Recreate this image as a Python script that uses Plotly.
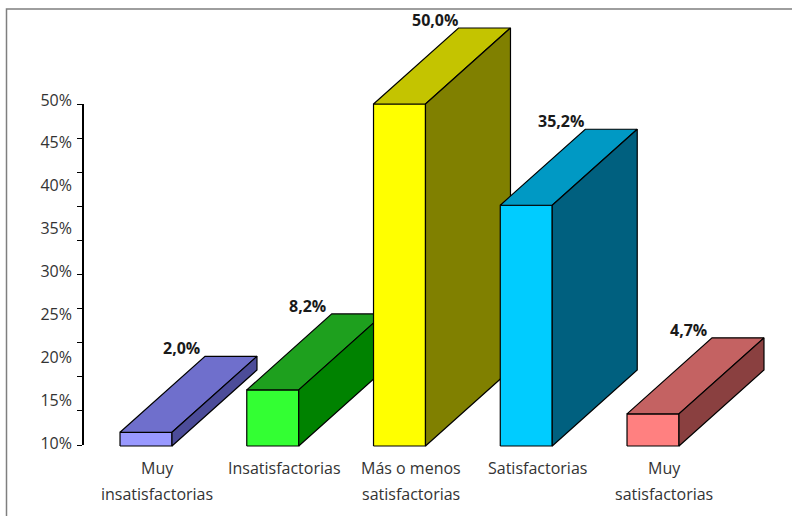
import plotly.graph_objects as go

# Survey results: satisfaction level shares (%)
categories = [
    "Muy\ninsatisfactorias",
    "Insatisfactorias",
    "Más o menos\nsatisfactorias",
    "Satisfactorias",
    "Muy\nsatisfactorias",
]
values = [2.0, 8.2, 50.0, 35.2, 4.7]
value_labels = ["2,0%", "8,2%", "50,0%", "35,2%", "4,7%"]
axis_label_values = [10, 15, 20, 25, 30, 35, 40, 45, 50]

# Face colours of each 3-D column: front, top, side
front_colors = ["#9999FF", "#33FF33", "#FFFF00", "#00CCFF", "#FF8080"]
top_colors = ["#6F6FCC", "#1EA01E", "#C4C400", "#0099C4", "#C46262"]
side_colors = ["#4C4C99", "#008200", "#808000", "#00607F", "#8A4040"]

W, H = 792, 516
FONT = "'Open Sans', Lato, sans-serif"

# Canvas geometry (pixels)
CAT_STEP_PX = 126.75      # distance between neighbouring columns
CAT0_PX = 146             # centre of the first column's front face
PCT_PX = 6.84             # pixels per percentage point
BASE_PX = 446             # floor line of the columns
HALF_W = 0.205            # half width of a column front (category units)
DEPTH_X = 85 / CAT_STEP_PX
DEPTH_Y = 76 / PCT_PX

x_range = [(0 - CAT0_PX) / CAT_STEP_PX, (W - CAT0_PX) / CAT_STEP_PX]
y_range = [(BASE_PX - H) / PCT_PX, BASE_PX / PCT_PX]

EDGE = dict(color="#000000", width=1.2)
fig = go.Figure()


def face(xs, ys, color):
    fig.add_trace(go.Scatter(
        x=xs + [xs[0]], y=ys + [ys[0]], mode="lines", fill="toself",
        fillcolor=color, line=EDGE, hoverinfo="skip", showlegend=False,
    ))


for i, v in enumerate(values):
    x0, x1 = i - HALF_W, i + HALF_W
    # front face
    face([x0, x1, x1, x0], [0, 0, v, v], front_colors[i])
    # top face
    face([x0, x1, x1 + DEPTH_X, x0 + DEPTH_X], [v, v, v + DEPTH_Y, v + DEPTH_Y], top_colors[i])
    # right side face
    face([x1, x1 + DEPTH_X, x1 + DEPTH_X, x1], [0, DEPTH_Y, v + DEPTH_Y, v], side_colors[i])

# helper traces so the value axes are rendered
fig.add_trace(go.Scatter(x=[None], y=[None], yaxis="y2", showlegend=False, hoverinfo="skip"))
fig.add_trace(go.Scatter(x=[None], y=[None], yaxis="y3", showlegend=False, hoverinfo="skip"))

annotations = []
# value labels above each column
for i, (v, lab) in enumerate(zip(values, value_labels)):
    annotations.append(dict(
        x=i - HALF_W + DEPTH_X, y=v + DEPTH_Y, xref="x", yref="y",
        text=f"<b>{lab}</b>", showarrow=False, xanchor="center", yanchor="middle",
        xshift=-24, yshift=8,
        font=dict(family=FONT, size=16, color="#1a1a1a"),
    ))

# category names under the columns
LINE1_PX, LINE2_PX = 468, 494
for i, cat in enumerate(categories):
    for k, line in enumerate(cat.split("\n")):
        py = LINE1_PX if k == 0 else LINE2_PX
        annotations.append(dict(
            x=i + 0.09, y=(H - py) / H, xref="x", yref="paper",
            text=line, showarrow=False, xanchor="center", yanchor="middle",
            font=dict(family=FONT, size=16, color="#333333"),
        ))

AXIS_X = 83 / W
fig.update_layout(
    template="none",
    width=W, height=H,
    margin=dict(l=0, r=0, t=0, b=0, pad=0, autoexpand=False),
    paper_bgcolor="white", plot_bgcolor="rgba(0,0,0,0)",
    font=dict(family=FONT, color="#333333"),
    xaxis=dict(range=x_range, visible=False, fixedrange=True, automargin=False),
    yaxis=dict(range=y_range, visible=False, fixedrange=True, automargin=False),
    yaxis2=dict(
        domain=[(H - 443) / H, (H - 100) / H], range=[10, 50],
        anchor="free", position=AXIS_X, side="left", automargin=False,
        tickvals=axis_label_values, ticktext=[f"{v}%" for v in axis_label_values],
        ticks="", showline=False, showgrid=False, zeroline=False,
        ticklabelstandoff=11,
        tickfont=dict(family=FONT, size=16, color="#333333"),
    ),
    yaxis3=dict(
        domain=[(H - 445) / H, (H - 104) / H], range=[0, 50],
        anchor="free", position=AXIS_X, side="left", automargin=False,
        dtick=5, ticks="outside", ticklen=5, tickcolor="#000000", tickwidth=1,
        showticklabels=False, showline=True, linecolor="#000000", linewidth=1.5,
        showgrid=False, zeroline=False,
    ),
    annotations=annotations,
    shapes=[dict(
        type="rect", xref="paper", yref="paper",
        x0=6.5 / W, x1=1.02, y0=-0.02, y1=(H - 9) / H,
        line=dict(color="#7f7f7f", width=1.5), fillcolor="rgba(0,0,0,0)", layer="below",
    )],
)

fig.write_html("out.html")
